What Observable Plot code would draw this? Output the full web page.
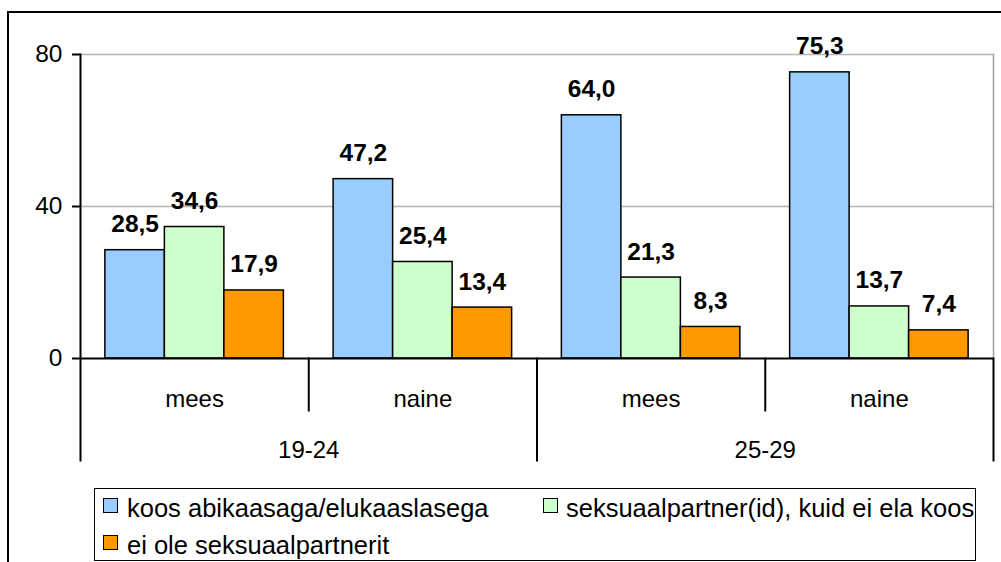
<!DOCTYPE html>
<html><head><meta charset="utf-8">
<script src="https://cdn.jsdelivr.net/npm/d3@7"></script>
<script src="https://cdn.jsdelivr.net/npm/@observablehq/plot@0.6"></script>
<style>
body{margin:0;background:#fff;}
#wrap{position:relative;width:1001px;height:562px;overflow:hidden;font-family:"Liberation Sans",Arial,sans-serif;color:#000;}
#outer{position:absolute;left:7px;top:11px;width:1100px;height:700px;border-left:2px solid #000;border-top:2px solid #000;}
#chart{position:absolute;left:0;top:0;}
#legend{position:absolute;left:94px;top:488px;width:882px;height:73px;border:1.5px solid #000;box-sizing:border-box;background:#fff;}
.item{position:absolute;font-size:25.5px;line-height:24px;white-space:nowrap;}
.sw{position:absolute;width:15px;height:15px;border:1.5px solid #000;box-sizing:border-box;}
</style>
</head><body>
<div id="wrap"><div id="outer"></div><div id="chart"></div><div id="legend"></div></div>
<script>
const ageGroups = ["19-24", "25-29"];
const sexes = ["mees", "naine"];
const seriesNames = ["koos abikaasaga/elukaaslasega", "seksuaalpartner(id), kuid ei ela koos", "ei ole seksuaalpartnerit"];
const koos = [28.5, 47.2, 64.0, 75.3];
const seks = [34.6, 25.4, 21.3, 13.7];
const eiOle = [17.9, 13.4, 8.3, 7.4];
const seriesColors = ["#99ccff", "#ccffcc", "#ff9900"];
const yTicks = [0, 40, 80];

const cells = ageGroups.flatMap(a => sexes.map(s => a + "|" + s));
const seriesValues = [koos, seks, eiOle];
const data = [];
cells.forEach((c, i) => seriesNames.forEach((s, j) => data.push({cell: c, series: s, value: seriesValues[j][i]})));

const W = 1001, H = 470, mL = 80, mR = 8, mT = 54, mB = 112;
const plotH = H - mT - mB;
const fmt = v => v.toFixed(1).replace(".", ",");

const chart = Plot.plot({
  width: W, height: H, marginLeft: mL, marginRight: mR, marginTop: mT, marginBottom: mB,
  style: {fontFamily: '"Liberation Sans", Arial, sans-serif', fontSize: "24px", color: "#000", background: "transparent", overflow: "visible"},
  fx: {domain: cells, padding: 0, round: false, axis: null},
  x: {domain: seriesNames, paddingInner: 0, paddingOuter: 0.418, round: false, axis: null},
  y: {domain: [0, 80], axis: null},
  color: {domain: seriesNames, range: seriesColors},
  marks: [
    Plot.ruleY([40, 80], {stroke: "#b4b4b4", strokeWidth: 1.5}),
    Plot.frame({fx: cells[3], anchor: "right", stroke: "#a0a0a0", strokeWidth: 1.5}),
    Plot.barY(data, {fx: "cell", x: "series", y: "value", fill: "series", stroke: "#000", strokeWidth: 1.5}),
    Plot.ruleY([0], {stroke: "#000", strokeWidth: 2}),
    Plot.axisY({ticks: yTicks, tickSize: 8, tickPadding: 10, fontSize: 24.5, label: null, strokeWidth: 2}),
    Plot.axisFx({anchor: "bottom", tickSize: 0, tickPadding: 31, fontSize: 24, label: null, tickFormat: d => d.split("|")[1]}),
    Plot.frame({fx: cells[0], anchor: "left", insetBottom: -102, strokeWidth: 2}),
    Plot.frame({fx: cells[1], anchor: "left", insetTop: plotH, insetBottom: -52, strokeWidth: 2}),
    Plot.frame({fx: cells[2], anchor: "left", insetTop: plotH, insetBottom: -102, strokeWidth: 2}),
    Plot.frame({fx: cells[3], anchor: "left", insetTop: plotH, insetBottom: -52, strokeWidth: 2}),
    Plot.frame({fx: cells[3], anchor: "right", insetTop: plotH, insetBottom: -102, strokeWidth: 2}),
    Plot.text(data, {fx: "cell", x: "series", y: "value", text: d => fmt(d.value), lineAnchor: "bottom", dy: -18, fontWeight: "bold", fontSize: 24.5}),
    Plot.text(ageGroups, {fx: d => d + "|" + sexes[0], frameAnchor: "bottom-right", text: d => d, lineAnchor: "bottom", dy: 99, textAnchor: "middle", fontSize: 24})
  ]
});
document.getElementById("chart").appendChild(chart);

// legend (HTML, below the SVG)
const legend = document.getElementById("legend");
const legendPos = [[8, 8.5, 32, 7], [448, 8.5, 471, 7], [8, 45.5, 32, 44]];
seriesNames.forEach((s, i) => {
  const [sx, sy, tx, ty] = legendPos[i];
  const sw = document.createElement("div");
  sw.className = "sw"; sw.style.left = sx + "px"; sw.style.top = sy + "px"; sw.style.background = seriesColors[i];
  const t = document.createElement("div");
  t.className = "item"; t.style.left = tx + "px"; t.style.top = ty + "px"; t.textContent = s;
  legend.appendChild(sw); legend.appendChild(t);
});
</script>
</body></html>
